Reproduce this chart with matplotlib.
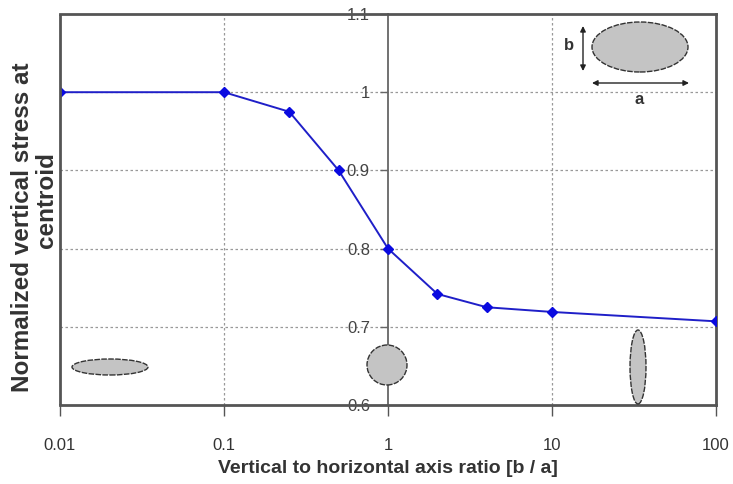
import matplotlib
matplotlib.use("Agg")
import matplotlib.pyplot as plt
from matplotlib.patches import Ellipse

plt.rcParams['font.family'] = ['Liberation Sans', 'DejaVu Sans']

# Aspect ratio b/a and normalized vertical stress at the centroid
ratio = [0.01, 0.1, 0.25, 0.5, 1, 2, 4, 10, 100]
stress = [1.0, 1.0, 0.975, 0.90, 0.80, 0.742, 0.725, 0.719, 0.707]

x_ticks = [0.01, 0.1, 1, 10, 100]
x_tick_labels = ['0.01', '0.1', '1', '10', '100']
y_ticks = [0.6, 0.7, 0.8, 0.9, 1.0, 1.1]
y_tick_labels = ['0.6', '0.7', '0.8', '0.9', '1', '1.1']

W, H = 733, 484
fig = plt.figure(figsize=(W / 100, H / 100), dpi=100)
L, R, T, B = 60, 716, 14, 405
ax = fig.add_axes([L / W, 1 - B / H, (R - L) / W, (B - T) / H])

ax.set_xscale('log')
ax.set_xlim(0.01, 100)
ax.set_ylim(0.6, 1.1)

# Grid
for yv in [0.7, 0.8, 0.9, 1.0]:
    ax.axhline(yv, color='#999999', lw=0.9, ls=(0, (2, 2)), zorder=1)
for xv in [0.1, 10]:
    ax.axvline(xv, color='#999999', lw=0.9, ls=(0, (2, 2)), zorder=1)

# Data series
ax.plot(ratio, stress, color='#1f1fc8', lw=1.4, marker='D', ms=5,
        mec='#0a0ae0', mfc='#0a0ae0', zorder=4)

# Frame: y axis crosses at b/a = 1
frame_c = '#555555'
ax.spines['left'].set_position(('data', 1))
ax.spines['left'].set_color('#666666')
ax.spines['left'].set_linewidth(1.3)
for s in ['top', 'right', 'bottom']:
    ax.spines[s].set_color(frame_c)
    ax.spines[s].set_linewidth(2.0)
ax.plot([0, 0], [0, 1], transform=ax.transAxes, color=frame_c, lw=2.0,
        clip_on=False, zorder=5, solid_capstyle='butt')

ax.set_xticks(x_ticks)
ax.set_xticklabels(x_tick_labels)
ax.xaxis.set_minor_locator(matplotlib.ticker.NullLocator())
ax.set_yticks(y_ticks)
ax.set_yticklabels(y_tick_labels)
ax.tick_params(axis='x', direction='out', length=8, width=1.0, color='#555555',
               pad=16, labelsize=12, labelcolor='#333333')
ax.tick_params(axis='y', direction='out', length=6, width=1.0, color='#666666',
               pad=7, labelsize=12, labelcolor='#444444')

ax.set_xlabel('Vertical to horizontal axis ratio [b / a]', fontsize=14,
              fontweight='bold', color='#333333', labelpad=5)

# Y axis title, two lines
ylab_kw = dict(rotation=90, ha='center', va='center', fontsize=17.5,
               fontweight='bold', color='#333333')
fig.text(23 / W, 1 - 227 / H, 'Normalized vertical stress at', **ylab_kw)
fig.text(47 / W, 1 - 200 / H, 'centroid', **ylab_kw)


def px_ellipse(cx, cy, w, h):
    e = Ellipse(((cx - L) / (R - L), (B - cy) / (B - T)), w / (R - L),
                h / (B - T), transform=ax.transAxes, facecolor='#c4c4c4',
                edgecolor='#333333', lw=1.0, ls=(0, (4, 1)), zorder=3,
                clip_on=False)
    ax.add_patch(e)


# Shape sketches
px_ellipse(110, 367, 76, 16)
px_ellipse(387, 365, 40, 40)
px_ellipse(638, 367, 16, 74)
px_ellipse(640, 47, 96, 50)


def px_to_axes(x, y):
    return ((x - L) / (R - L), (B - y) / (B - T))


arrow_kw = dict(arrowstyle='<|-|>', color='#222222', lw=1.0,
                mutation_scale=8, shrinkA=0, shrinkB=0)
ax.annotate('', xy=px_to_axes(583, 26), xytext=px_to_axes(583, 71),
            xycoords='axes fraction', textcoords='axes fraction',
            arrowprops=arrow_kw, zorder=5)
ax.annotate('', xy=px_to_axes(592, 83), xytext=px_to_axes(689, 83),
            xycoords='axes fraction', textcoords='axes fraction',
            arrowprops=arrow_kw, zorder=5)
ax.text(*px_to_axes(569, 46), 'b', transform=ax.transAxes, fontsize=12,
        fontweight='bold', color='#333333', ha='center', va='center')
ax.text(*px_to_axes(639, 99), 'a', transform=ax.transAxes, fontsize=12,
        fontweight='bold', color='#333333', ha='center', va='center')

fig.savefig('out.png', dpi=100)
